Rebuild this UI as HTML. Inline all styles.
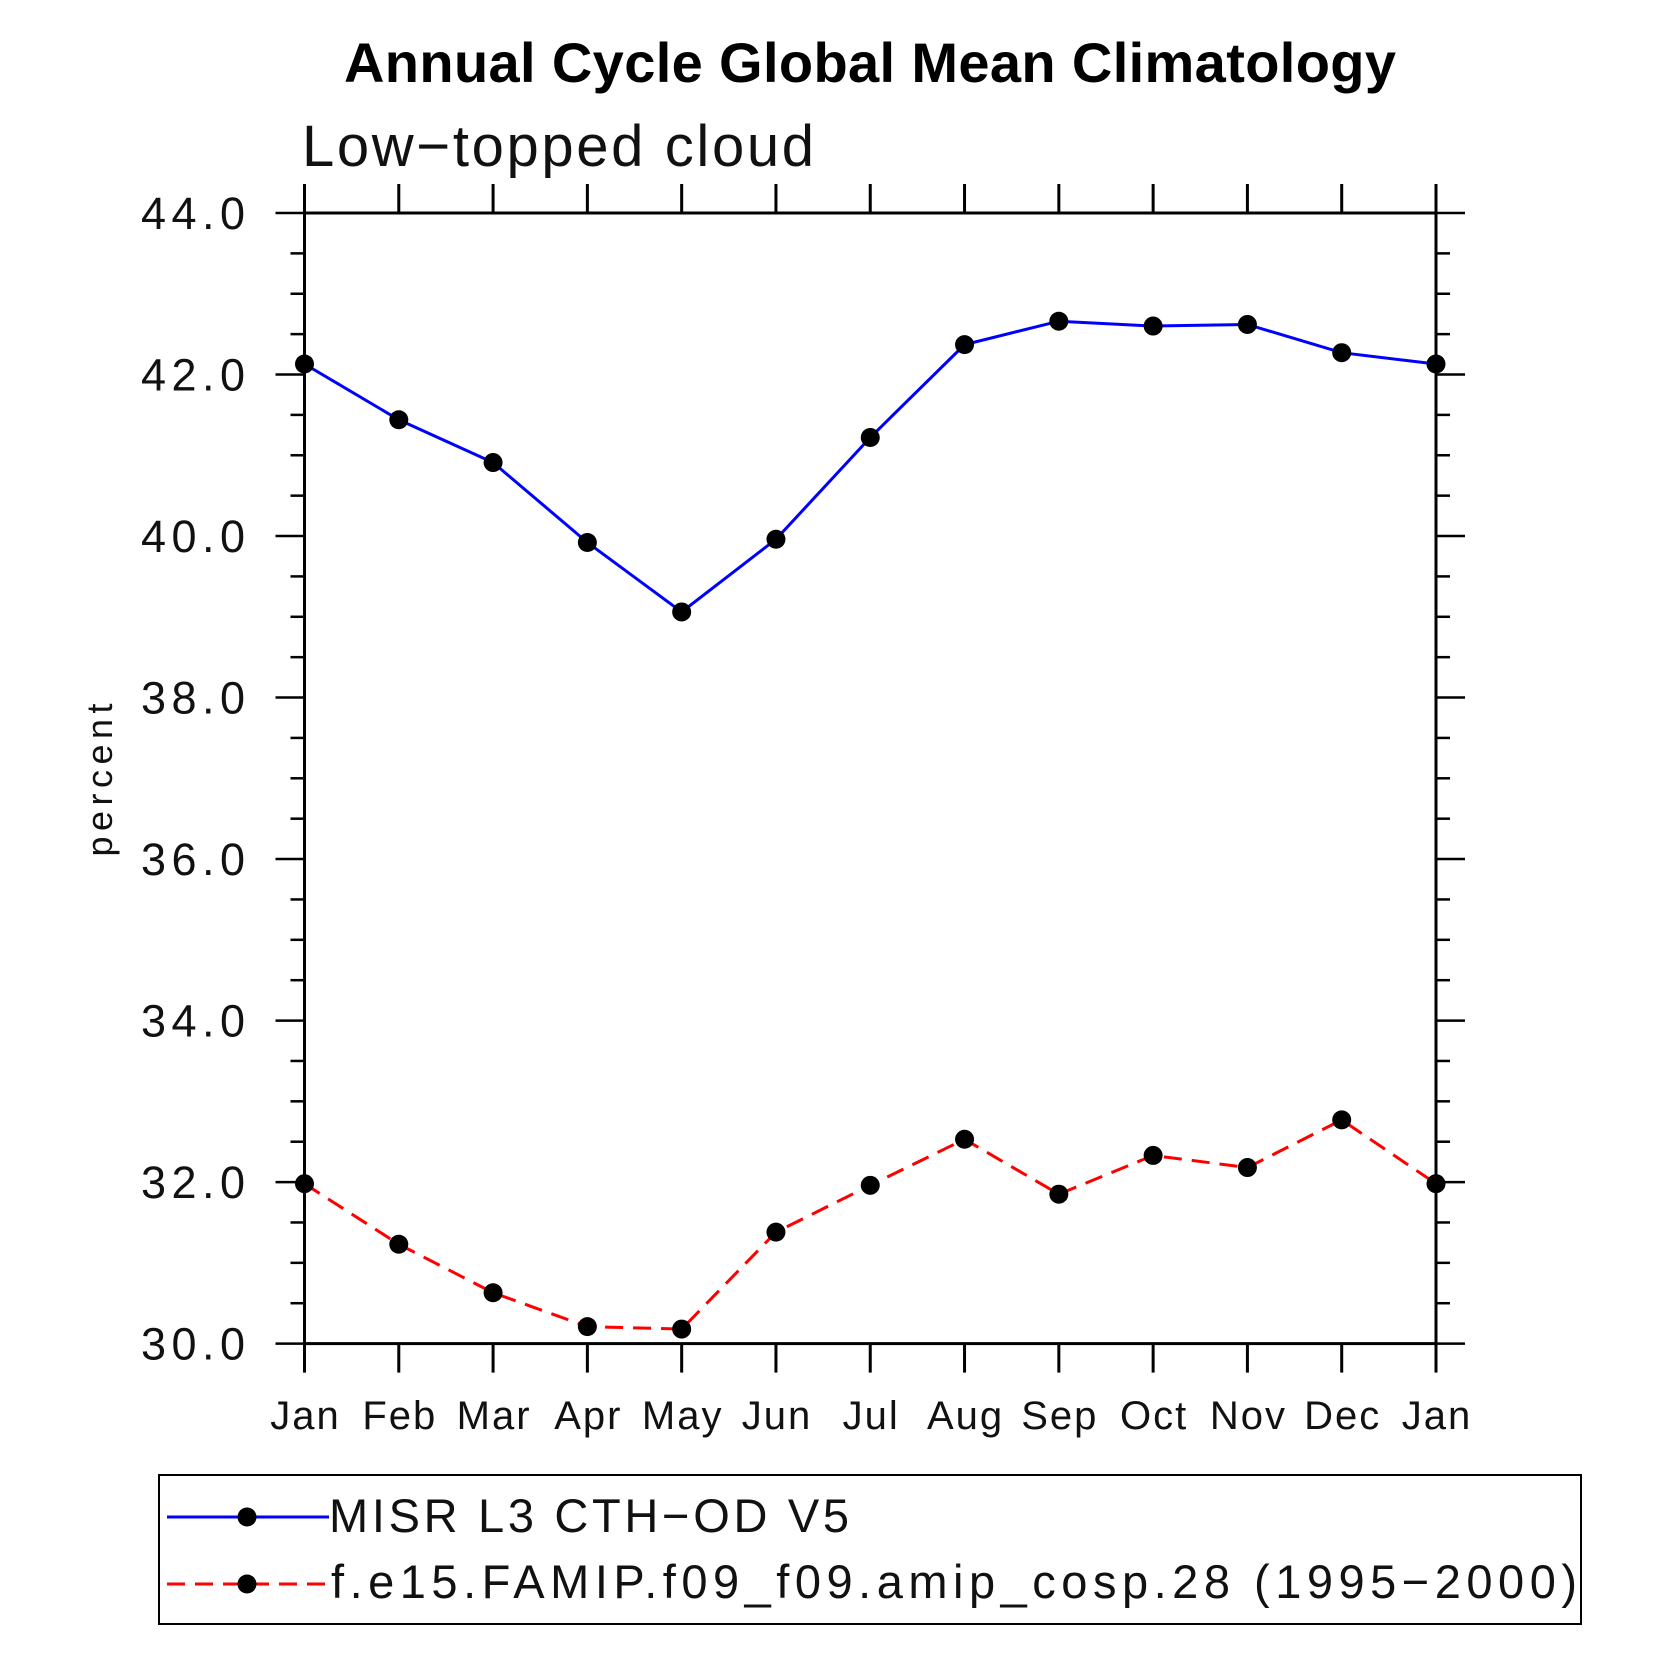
<!DOCTYPE html>
<html><head><meta charset="utf-8"><style>
html,body{margin:0;padding:0;background:#fff;}
svg{display:block;font-family:"Liberation Sans",sans-serif;}
</style></head><body>
<svg id="chart" width="1663" height="1663" viewBox="0 0 1663 1663">
<text x="870" y="82" font-size="56" font-weight="bold" text-anchor="middle" textLength="1052" lengthAdjust="spacing">Annual Cycle Global Mean Climatology</text>
<text x="302" y="166" font-size="58" fill="#111" textLength="512" lengthAdjust="spacing">Low−topped cloud</text>
<text transform="translate(112,780) rotate(-90)" font-size="36" text-anchor="middle" fill="#111" textLength="153" lengthAdjust="spacing">percent</text>
<g id="axes"></g>
<g id="series"></g>
<rect x="159" y="1475" width="1422" height="149" fill="none" stroke="#000" stroke-width="2"/>
<g>
<line x1="167" y1="1517" x2="329" y2="1517" stroke="#0000ff" stroke-width="3"/>
<circle cx="247" cy="1517" r="9.5" fill="#000"/>
<text x="329" y="1532" font-size="47" fill="#111" textLength="520" lengthAdjust="spacing">MISR L3 CTH−OD V5</text>
</g>
<g>
<line x1="167" y1="1584" x2="329" y2="1584" stroke="#ff0000" stroke-width="3" stroke-dasharray="18,10"/>
<circle cx="247" cy="1584" r="9.5" fill="#000"/>
<text x="331" y="1598" font-size="47" fill="#111" textLength="1246" lengthAdjust="spacing">f.e15.FAMIP.f09_f09.amip_cosp.28 (1995−2000)</text>
</g>
</svg>
<script>
const months = ["Jan","Feb","Mar","Apr","May","Jun","Jul","Aug","Sep","Oct","Nov","Dec","Jan"];
const misr = [42.13,41.44,40.91,39.92,39.06,39.96,41.22,42.37,42.66,42.60,42.62,42.27,42.13];
const model = [31.98,31.23,30.63,30.21,30.18,31.38,31.96,32.53,31.85,32.33,32.18,32.77,31.98];
const yTicks = ["30.0","32.0","34.0","36.0","38.0","40.0","42.0","44.0"];
const yMin = 30, yMax = 44;
const L=304.5,R=1436,T=213,B=1343.6;
const NS="http://www.w3.org/2000/svg";
function X(i){return L+(R-L)*i/(months.length-1);}
function Y(v){return B-(v-yMin)/(yMax-yMin)*(B-T);}
function mk(tag,attrs,parent){const e=document.createElementNS(NS,tag);for(const k in attrs)e.setAttribute(k,attrs[k]);parent.appendChild(e);return e;}
const ax=document.getElementById('axes');
const frame=mk('rect',{x:L,y:T,width:R-L,height:B-T,fill:'none',stroke:'#000','stroke-width':3},ax);


months.forEach((m,i)=>{
  const x=X(i);
  mk('line',{x1:x,y1:B,x2:x,y2:B+29,stroke:'#000','stroke-width':3},ax);
  mk('line',{x1:x,y1:T,x2:x,y2:T-29,stroke:'#000','stroke-width':3},ax);
  const t=mk('text',{x:x+1,y:1429,'font-size':40,'text-anchor':'middle',fill:'#111','letter-spacing':2},ax);
  t.textContent=m;
  
  
});
for(let v=yMin;v<=yMax+1e-9;v+=0.5){
  const y=Y(v);const major=Math.abs(v%2)<1e-9;const len=major?29:14;
  mk('line',{x1:L-len,y1:y,x2:L,y2:y,stroke:'#000','stroke-width':2.5},ax);
  mk('line',{x1:R,y1:y,x2:R+len,y2:y,stroke:'#000','stroke-width':2.5},ax);
}
yTicks.forEach(lbl=>{
  const t=mk('text',{x:141,y:Y(parseFloat(lbl))+16,'font-size':45,fill:'#111',textLength:104,lengthAdjust:'spacing'},ax);
  t.textContent=lbl;
  
  
});
const sg=document.getElementById('series');
function draw(vals,color,dash,name){
  const p=mk('polyline',{points:vals.map((v,i)=>X(i)+','+Y(v)).join(' '),fill:'none',stroke:color,'stroke-width':3},sg);
  if(dash)p.setAttribute('stroke-dasharray',dash);
  
  
  vals.forEach((v,i)=>{
    const c=mk('circle',{cx:X(i),cy:Y(v),r:9.5,fill:'#000'},sg);
    
    
  });
}
draw(misr,'#0000ff',null,'misr');
draw(model,'#ff0000','18,10','model');
</script>
</body></html>
